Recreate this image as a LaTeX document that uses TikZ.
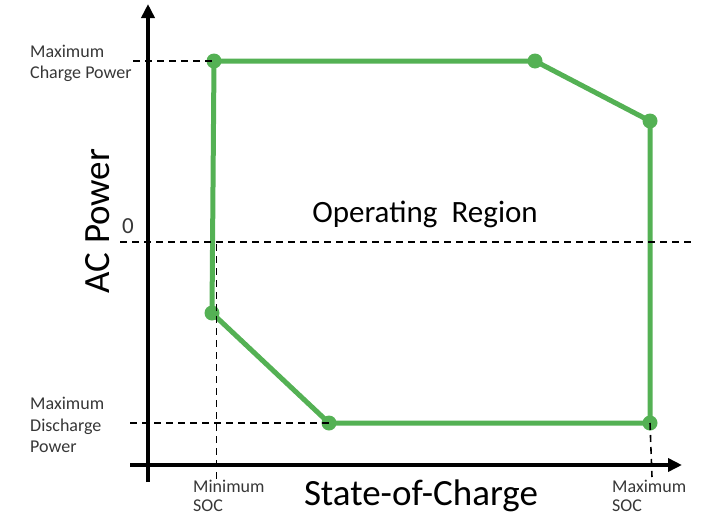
\documentclass[tikz,border=0pt]{standalone}
\usepackage{fontspec}
\setmainfont{Carlito}
\usetikzlibrary{arrows.meta}
\definecolor{opgreen}{RGB}{84,177,84}
\definecolor{labgray}{RGB}{55,55,55}
\begin{document}
\begin{tikzpicture}[x=1pt,y=-1pt,
  axis/.style={line width=3.8pt,-{Triangle[length=14pt,width=13pt]}},
  guide/.style={line width=1.6pt,dash pattern=on 7pt off 5pt,black},
  region/.style={line width=5pt,opgreen,line join=round},
  dot/.style={circle,fill=opgreen,inner sep=0pt,minimum size=15pt},
  small/.style={font=\fontsize{18}{21}\selectfont,text=labgray,anchor=base west,inner sep=0pt},
  big/.style={font=\fontsize{37}{42}\selectfont,text=black,inner sep=0pt}]
\useasboundingbox (0,0) rectangle (705,517);
% named corner coordinates
\coordinate (p1) at (214,61);
\coordinate (p2) at (535,61);
\coordinate (p3) at (650,121);
\coordinate (p4) at (650,423);
\coordinate (p5) at (329,423);
\coordinate (p6) at (212,313);
\coordinate (yb) at (148,482);
\coordinate (yt) at (148,4);
\coordinate (xl) at (130,465);
\coordinate (xr) at (682,465);
% guides
\coordinate (g1) at (133,61);
\coordinate (g2) at (130,423);
\coordinate (z1) at (120,242);
\coordinate (z2) at (695,242);
\coordinate (v1a) at (216.5,244);
\coordinate (v1b) at (216.5,479);
\coordinate (v2b) at (652,477);
% region
\draw[region] (p1) -- (p2) -- (p3) -- (p4) -- (p5) -- (p6) -- cycle;
\foreach \p in {p1,p2,p3,p4,p5,p6} \node[dot] at (\p) {};
% dashed guides
\draw[guide] (g1) -- (p1);
\draw[guide] (g2) -- (p5);
\draw[guide] (z1) -- (z2);
\draw[guide] (v1a) -- (v1b);
\draw[guide] (p4) -- (v2b);
% axes
\draw[axis] (yb) -- (yt);
\draw[axis] (xl) -- (xr);
% labels
\node[small] (lmc1) at (30,57) {Maximum};
\node[small] (lmc2) at (30,78) {Charge Power};
\node[small] (lmd1) at (30,409) {Maximum};
\node[small] (lmd2) at (30,431) {Discharge};
\node[small] (lmd3) at (30,452) {Power};
\node[small] (lmin1) at (193,492) {Minimum};
\node[small] (lmin2) at (193,511) {SOC};
\node[small] (lmax1) at (612,492) {Maximum};
\node[small] (lmax2) at (612,511) {SOC};
\node[small,font=\fontsize{23}{26}\selectfont] (lzero) at (122,233) {0};
\node[big,rotate=90] (lac) at (98,221) {AC Power};
\node[big] (lsoc) at (421,496) {State-of-Charge};
\node[font=\fontsize{31}{36}\selectfont,inner sep=0pt,anchor=base] (lop) at (425,222) {Operating\hspace{0.46em}Region};
\end{tikzpicture}
\end{document}
